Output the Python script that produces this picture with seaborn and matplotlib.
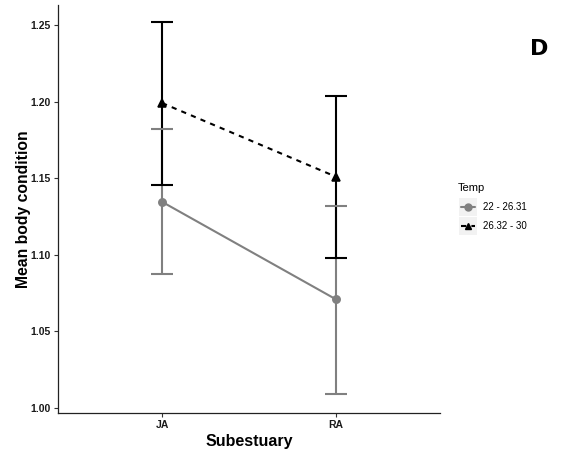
import pandas as pd
import matplotlib.pyplot as plt
import seaborn as sns
from matplotlib.lines import Line2D
from matplotlib.patches import Rectangle

# Values
sites = ['JA', 'RA']
temps = ['22 - 26.31', '26.32 - 30']
mean_low = [1.1345, 1.071]
lower_low = [1.0875, 1.009]
upper_low = [1.182, 1.132]
mean_high = [1.199, 1.151]
lower_high = [1.1455, 1.098]
upper_high = [1.252, 1.2037]

df = pd.DataFrame({
    'Subestuary': sites * 2,
    'Temp': [temps[0]] * 2 + [temps[1]] * 2,
    'mean': mean_low + mean_high,
    'lower': lower_low + lower_high,
    'upper': upper_low + upper_high,
})

sns.set_style('white')
plt.rcParams['font.family'] = ['Liberation Sans', 'DejaVu Sans']

colors = {temps[0]: '#808080', temps[1]: '#000000'}
markers = {temps[0]: 'o', temps[1]: '^'}
styles = {temps[0]: '-', temps[1]: (0, (2.5, 2.5))}

fig = plt.figure(figsize=(5.66, 4.55), dpi=100)
ax = fig.add_axes([0.1025, 0.0923, 0.6745, 0.8967])

# error bars first, then means on top
for t in temps:
    sub = df[df['Temp'] == t]
    pos = [sites.index(s) for s in sub['Subestuary']]
    ax.errorbar(pos, sub['mean'],
                yerr=[sub['mean'] - sub['lower'], sub['upper'] - sub['mean']],
                fmt='none', ecolor=colors[t], elinewidth=1.5, capsize=8,
                capthick=1.5, zorder=2)

for t in temps:
    sub = df[df['Temp'] == t]
    sns.pointplot(data=sub, x='Subestuary', y='mean', order=sites,
                  color=colors[t], markers=markers[t], linestyles='-',
                  errorbar=None, ax=ax, markersize=5.3, linewidth=1.5)

# set dash style for the high temperature line
for ln in ax.lines:
    if ln.get_color() in ('#000000', 'black', (0.0, 0.0, 0.0, 1.0)) and len(ln.get_xdata()) == 2:
        ln.set_linestyle(styles[temps[1]])
    ln.set_zorder(3)

ax.set_xlim(-0.6, 1.6)
ax.set_ylim(0.9967, 1.263)
ax.set_yticks([1.00, 1.05, 1.10, 1.15, 1.20, 1.25])
ax.set_yticklabels(['1.00', '1.05', '1.10', '1.15', '1.20', '1.25'])
ax.tick_params(axis='both', which='both', length=3, width=0.8, color='#333333',
               labelsize=7.5, labelcolor='#1a1a1a', pad=2, left=True, bottom=True)
for lab in ax.get_xticklabels() + ax.get_yticklabels():
    lab.set_fontweight('bold')
for side in ['top', 'right']:
    ax.spines[side].set_visible(False)
for side in ['left', 'bottom']:
    ax.spines[side].set_color('#222222')
    ax.spines[side].set_linewidth(0.9)

ax.set_xlabel('Subestuary', fontsize=11.5, fontweight='bold', labelpad=3, color='black')
ax.set_ylabel('Mean body condition', fontsize=11.3, fontweight='bold', labelpad=0,
              color='black')

fig.text(0.952, 0.893, 'D', fontsize=16, fontweight='bold', color='black',
         family='DejaVu Sans', ha='center', va='center')

# legend in ggplot style
fig.text(0.809, 0.587, 'Temp', fontsize=8, ha='left', va='center', color='black')
key_y = [0.545, 0.503]
for t, y in zip(temps, key_y):
    fig.patches.append(Rectangle((0.811, y - 0.019), 0.032, 0.038,
                                 transform=fig.transFigure, facecolor='#f2f2f2',
                                 edgecolor='none', zorder=0))
    fig.lines.append(Line2D([0.814, 0.840], [y, y], transform=fig.transFigure,
                            color=colors[t], lw=1.5, linestyle=styles[t]))
    fig.lines.append(Line2D([0.827], [y], transform=fig.transFigure,
                            color=colors[t], marker=markers[t], markersize=5))
    fig.text(0.853, y, t, fontsize=7, ha='left', va='center', color='black')

fig.savefig('out.png', dpi=100)
